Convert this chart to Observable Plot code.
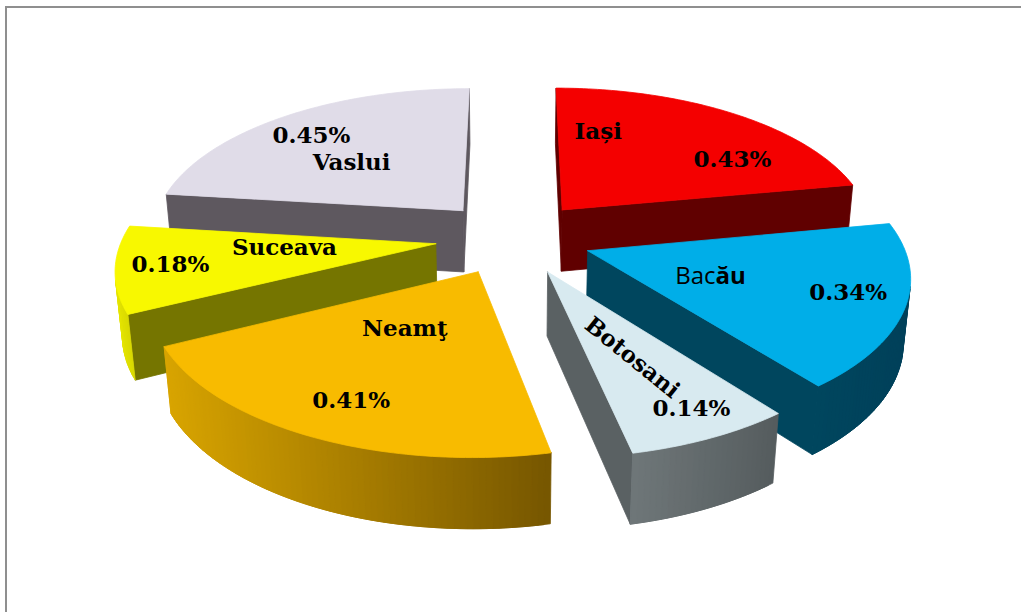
<!DOCTYPE html>
<html><head><meta charset="utf-8">
<script src="https://cdn.jsdelivr.net/npm/d3@7"></script>
<script src="https://cdn.jsdelivr.net/npm/@observablehq/plot@0.6"></script>
<style>
body{margin:0;background:#fff;}
#wrap{position:relative;width:1021px;height:612px;overflow:hidden;background:#fff;}
#wrap svg{position:absolute;left:0;top:0;}
#frame{position:absolute;left:5px;top:6px;right:-10px;bottom:-10px;border-left:2px solid #8f8f8f;border-top:2px solid #8f8f8f;pointer-events:none;}
</style></head><body><div id="wrap"><div id="frame"></div></div>
<script>
// ---- data ----
const counties = ["Iași", "Bacău", "Botosani", "Neamţ", "Suceava", "Vaslui"];
const shares = [0.43, 0.34, 0.14, 0.41, 0.18, 0.45];
const valueLabels = ["0.43%", "0.34%", "0.14%", "0.41%", "0.18%", "0.45%"];

// ---- styles ----
const topColors = ["#f40000", "#00aee8", "#d8eaf0", "#f8bb00", "#f8f800", "#e0dce8"];
const cutColors = ["#600000", "#00465e", "#5a6163", "#8a6a00", "#757500", "#5e585f"];
const sideLeft  = ["#600000", "#00465e", "#6f7779", "#d8a400", "#e4e400", "#5e585f"];
const sideRight = ["#600000", "#00405a", "#555c5e", "#765600", "#d8d800", "#5e585f"];
// label layout: [angle (deg, clockwise from north), radius fraction] relative to slice apex
const nameLabelPos  = [[13.1, 0.63], [113.2, 0.421], [155.1, 0.553], [211.5, 0.40], [266.9, 0.478], [312.8, 0.535]];
const valueLabelPos = [[57.4, 0.71], [108.8, 0.823], [153.6, 0.854], [204.9, 0.80], [260.4, 0.831], [316.6, 0.804]];
const nameRotate = [0, 0, 39, 0, 0, 0];

// ---- 3D projection ----
const W = 1021, Hh = 612;
const cx = 513, cy = 237, f = 1880, dist = 6;
const sE = 0.47, cE = Math.sqrt(1 - sE * sE);
const R = 1, depth = 0.23, explode = 0.25;
function proj(X, Y, Z) {
  const yc = Y * sE + Z * cE;
  const zc = Y * cE - Z * sE + dist;
  return [cx + f * X / zc, cy - f * yc / zc];
}
const cam = [0, -dist * cE, dist * sE];
function facing(p, n) {
  return n[0] * (cam[0] - p[0]) + n[1] * (cam[1] - p[1]) + n[2] * (cam[2] - p[2]) > 0;
}

const arcs = d3.pie().sort(null).value(d => d)(shares);
const slices = arcs.map((a, i) => {
  const mid = (a.startAngle + a.endAngle) / 2;
  const ox = explode * Math.sin(mid), oy = explode * Math.cos(mid);
  const depthKey = (oy + 0.5 * Math.cos(mid)) * cE;
  return {i, a0: a.startAngle, a1: a.endAngle, mid, ox, oy, depthKey};
});
slices.sort((a, b) => b.depthKey - a.depthKey); // far first

const pts = [];
let fid = 0;
function addPoly(poly, color) {
  const id = fid++;
  for (const [x, y] of [...poly, poly[0]]) pts.push({face: id, x, y, fill: color});
}
const step = Math.PI / 180;
for (const s of slices) {
  const {i, a0, a1, ox, oy} = s;
  const n = Math.max(2, Math.ceil((a1 - a0) / step));
  const angs = d3.range(n + 1).map(k => a0 + (a1 - a0) * k / n);
  const P = (a, r, Z) => [ox + r * Math.sin(a), oy + r * Math.cos(a), Z];
  // cut faces
  for (const [a, na] of [[a0, a0 - Math.PI / 2], [a1, a1 + Math.PI / 2]]) {
    const test = P(a, 0.5, -depth / 2);
    if (facing(test, [Math.sin(na), Math.cos(na), 0])) {
      addPoly([P(a, 0, 0), P(a, R, 0), P(a, R, -depth), P(a, 0, -depth)].map(p => proj(...p)), cutColors[i]);
    }
  }
  // outer side (visible segments)
  const vis = [];
  for (let k = 0; k < n; k++) {
    const am = (angs[k] + angs[k + 1]) / 2;
    if (facing(P(am, R, -depth / 2), [Math.sin(am), Math.cos(am), 0])) vis.push(k);
  }
  if (vis.length) {
    const xs = vis.flatMap(k => [proj(...P(angs[k], R, 0))[0], proj(...P(angs[k + 1], R, 0))[0]]);
    const xmin = d3.min(xs), xmax = d3.max(xs);
    const interp = d3.interpolateRgb(sideLeft[i], sideRight[i]);
    for (const k of vis) {
      const u = angs[k];
      const v = angs[Math.min(k + 2, vis[vis.length - 1] + 1)]; // overlap next to hide seams
      const q = [P(u, R, 0), P(v, R, 0), P(v, R, -depth), P(u, R, -depth)].map(p => proj(...p));
      const xm = (proj(...P(angs[k], R, 0))[0] + proj(...P(angs[k + 1], R, 0))[0]) / 2;
      const t = xmax > xmin ? (xm - xmin) / (xmax - xmin) : 0;
      addPoly(q, d3.color(interp(t)).formatHex());
    }
  }
  // top face
  addPoly([proj(...P(a0, 0, 0)), ...angs.map(a => proj(...P(a, R, 0)))], topColors[i]);
}

// labels
function labelAt(i, [deg, r]) {
  const s = slices.find(d => d.i === i);
  const a = deg * Math.PI / 180;
  return proj(s.ox + r * Math.sin(a), s.oy + r * Math.cos(a), 0);
}
const nameLabels = counties.map((c, i) => {
  const [x, y] = labelAt(i, nameLabelPos[i]);
  return {text: c, x, y, rotate: nameRotate[i]};
});
const valLabels = valueLabels.map((t, i) => {
  const [x, y] = labelAt(i, valueLabelPos[i]);
  return {text: t, x, y};
});
const serif = "DejaVu Serif";
const bacauIdx = counties.indexOf("Bacău");
const serifNames = nameLabels.filter((d, i) => i !== bacauIdx);
const bac = nameLabels[bacauIdx];
const bacParts = [{text: bac.text.slice(0, 3), x: bac.x, y: bac.y}];
const bacBold = [{text: bac.text.slice(3), x: bac.x, y: bac.y}];

const chart = Plot.plot({
  width: W, height: Hh, margin: 0,
  x: {domain: [0, W], range: [0, W], axis: null},
  y: {domain: [0, Hh], range: [0, Hh], axis: null},
  color: {type: "identity"},
  style: {background: "transparent"},
  marks: [
    Plot.line(pts, {x: "x", y: "y", z: "face", fill: "fill", stroke: "fill", strokeWidth: 0.8, curve: "linear"}),
    Plot.text(serifNames, {x: "x", y: "y", text: "text", rotate: "rotate", fontFamily: serif, fontWeight: "bold", fontSize: 23, fill: "#000"}),
    Plot.text(valLabels, {x: "x", y: "y", text: "text", fontFamily: serif, fontWeight: "bold", fontSize: 23, fill: "#000"}),
    Plot.text(bacParts, {x: "x", y: "y", text: "text", textAnchor: "end", fontFamily: "Open Sans", fontSize: 24, fill: "#000"}),
    Plot.text(bacBold, {x: "x", y: "y", text: "text", textAnchor: "start", fontFamily: "Open Sans", fontWeight: "bold", fontSize: 24, fill: "#000"})
  ]
});
document.getElementById("wrap").insertBefore(chart, document.getElementById("frame"));
</script></body></html>
